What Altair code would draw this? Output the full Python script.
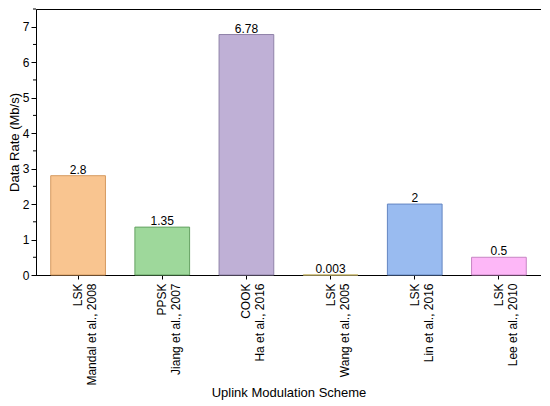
import altair as alt
import pandas as pd

schemes = ["LSK", "PPSK", "COOK", "LSK", "LSK", "LSK"]
refs = ["Mandal et al., 2008", "Jiang et al., 2007", "Ha et al., 2016",
        "Wang et al., 2005", "Lin et al., 2016", "Lee et al., 2010"]
rates = [2.8, 1.35, 6.78, 0.003, 2, 0.5]
rate_labels = ["2.8", "1.35", "6.78", "0.003", "2", "0.5"]
fills = ["#F9C590", "#9ED89B", "#BFB0D6", "#F5E6A8", "#99BBF0", "#FDB7F7"]
strokes = ["#D59A60", "#65A262", "#8F82A8", "#C8B870", "#6386C2", "#C885C4"]

y_major = [0, 1, 2, 3, 4, 5, 6, 7]
y_minor = [0.5, 1.5, 2.5, 3.5, 4.5, 5.5, 6.5, 7.5]

keys = [f"{i}" for i in range(len(schemes))]
df = pd.DataFrame({
    "key": keys,
    "scheme": schemes,
    "ref": refs,
    "rate": rates,
    "label": rate_labels,
    "fill": fills,
    "stroke": strokes,
})
minor_df = pd.DataFrame({"rate": y_minor})

scheme_arr = "[" + ",".join(f"'{s}'" for s in schemes) + "]"
ref_arr = "[" + ",".join(f"'{r}'" for r in refs) + "]"

x_scale = alt.Scale(paddingInner=0.35, paddingOuter=0.175)
x_axis = alt.Axis(
    labelAngle=270,
    labelAlign="right",
    labelBaseline="middle",
    labelExpr=f"[{scheme_arr}[toNumber(datum.value)], {ref_arr}[toNumber(datum.value)]]",
    labelLineHeight=14,
    labelPadding=4,
    tickSize=4,
    titlePadding=1,
)
x_enc = alt.X("key:N", sort=keys, title="Uplink Modulation Scheme", scale=x_scale, axis=x_axis)

y_scale = alt.Scale(domain=[0, 7.5], nice=False)
y_axis = alt.Axis(
    values=y_major,
    format="d",
    labelOverlap=False,
    tickSize=5,
    labelPadding=2,
    titlePadding=1,
)
y_enc = alt.Y("rate:Q", title="Data Rate (Mb/s)", scale=y_scale, axis=y_axis)

bars = alt.Chart(df).mark_bar(strokeWidth=1).encode(
    x=x_enc,
    y=y_enc,
    fill=alt.Fill("fill:N", scale=None),
    stroke=alt.Stroke("stroke:N", scale=None),
)

text = alt.Chart(df).mark_text(dy=-6, fontSize=12, font="Liberation Sans", color="black").encode(
    x=x_enc,
    y=y_enc,
    text="label:N",
)

minor = alt.Chart(minor_df).mark_rule(color="black", strokeWidth=1).encode(
    y=y_enc,
    x=alt.value(-3),
    x2=alt.value(0),
)

chart = (bars + text + minor).properties(
    width=505,
    height=266,
    padding={"left": 0, "top": 0, "right": 0, "bottom": 0},
).configure_view(
    stroke="black", strokeWidth=1
).configure_axis(
    grid=False,
    domainColor="black",
    tickColor="black",
    labelColor="black",
    titleColor="black",
    labelFont="Liberation Sans",
    titleFont="Liberation Sans",
    labelFontSize=12,
    titleFontSize=13,
    titleFontWeight="normal",
)

chart.save("out.html", embed_options={"renderer": "svg", "actions": False})
